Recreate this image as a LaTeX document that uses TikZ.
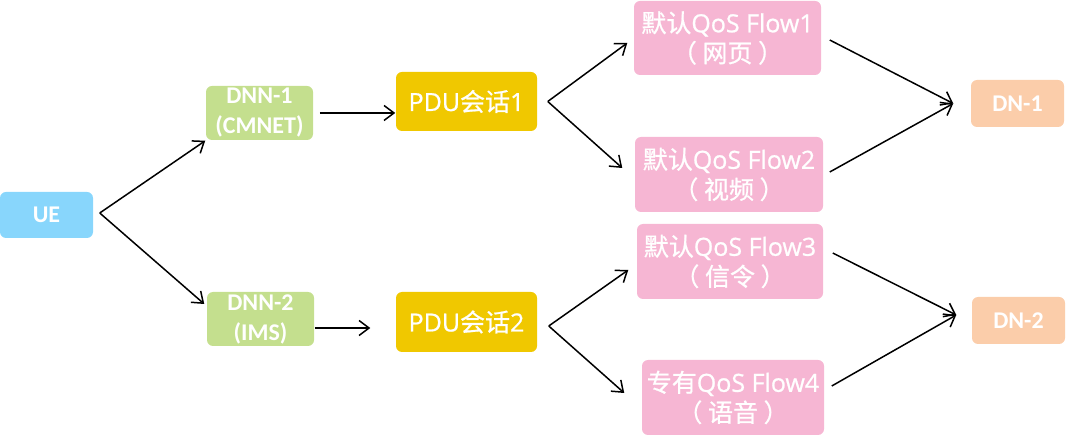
\documentclass[tikz,border=0pt]{standalone}
\usepackage{fontspec}
\newfontfamily\calibri{Carlito}
\newfontfamily\opensans{Open Sans}[FakeBold=0.8]
\newfontfamily\cjk{Noto Sans CJK SC}[FakeBold=0.8]
\usetikzlibrary{arrows.meta}
\definecolor{ueblue}{RGB}{136,214,252}
\definecolor{dnngreen}{RGB}{196,223,142}
\definecolor{pdugold}{RGB}{240,200,0}
\definecolor{flowpink}{RGB}{246,182,211}
\definecolor{dnpeach}{RGB}{251,205,170}

\begin{document}
\begin{tikzpicture}[x=1pt, y=-1pt, line width=1.5pt,
  box/.style={rounded corners=6pt, text=white, inner sep=0pt, align=center},
  latinbox/.style={box, font=\calibri\bfseries\fontsize{24}{30}\selectfont},
  cjkbox/.style={box, font=\opensans\fontsize{25}{30}\selectfont},
  arr/.style={-{Straight Barb[length=10pt,width=15pt]}}]
\useasboundingbox (0,0) rectangle (1080,438);

\node [latinbox, fill=ueblue, minimum width=93pt, minimum height=46pt] (ue) at (46.5,215) {UE};
\node [latinbox, fill=dnngreen, minimum width=107pt, minimum height=54pt] (dnn1) at (259.5,113) {DNN-1\\(CMNET)};
\node [latinbox, fill=dnngreen, minimum width=107pt, minimum height=54pt] (dnn2) at (260.5,319) {DNN-2\\(IMS)};
\node [cjkbox, fill=pdugold, minimum width=141pt, minimum height=59pt] (pdu1) at (466.5,101.5) {PDU{\cjk 会话}1};
\node [cjkbox, fill=pdugold, minimum width=141pt, minimum height=60pt] (pdu2) at (466.5,322) {PDU{\cjk 会话}2};
\node [cjkbox, fill=flowpink, minimum width=187pt, minimum height=74pt] (qf1) at (727.5,38) {{\cjk 默认}QoS Flow1\\{\cjk （ 网页 ）}};
\node [cjkbox, fill=flowpink, minimum width=188pt, minimum height=75pt] (qf2) at (729,174.5) {{\cjk 默认}QoS Flow2\\{\cjk （ 视频 ）}};
\node [cjkbox, fill=flowpink, minimum width=186pt, minimum height=75pt] (qf3) at (730,261.5) {{\cjk 默认}QoS Flow3\\{\cjk （ 信令 ）}};
\node [cjkbox, fill=flowpink, minimum width=182pt, minimum height=75pt] (qf4) at (733,397.5) {{\cjk 专有}QoS Flow4\\{\cjk （ 语音 ）}};
\node [latinbox, fill=dnpeach, minimum width=93pt, minimum height=47pt] (dn1) at (1017.5,103.5) {DN-1};
\node [latinbox, fill=dnpeach, minimum width=93pt, minimum height=47pt] (dn2) at (1018.5,320.5) {DN-2};

\draw[arr] ([xshift=6pt,yshift=2pt]ue.east) -- (dnn1.south west);
\draw[arr] ([xshift=6pt,yshift=2pt]ue.east) -- ([xshift=-2pt,yshift=15pt]dnn2.west);
\draw[arr] ([xshift=6pt]dnn1.east) -- (dnn1.east -| pdu1.west);
\draw[arr, shorten >=25pt] ([yshift=-9pt]dnn2.east) -- ([yshift=-9pt]dnn2.east -| pdu2.west);

\draw[arr] ([xshift=10pt]pdu1.east) -- ([xshift=-6pt,yshift=-5pt]qf1.west);
\draw[arr] ([xshift=10pt]pdu1.east) -- ([xshift=-12pt,yshift=6.5pt]qf2.west);
\draw[arr] ([xshift=11pt,yshift=-4pt]pdu2.east) -- ([xshift=-8pt,yshift=-8.5pt]qf3.west);
\draw[arr] ([xshift=11pt,yshift=-4pt]pdu2.east) -- ([xshift=-17pt,yshift=4.5pt]qf4.west);

\draw[arr] ([xshift=8pt,yshift=-2pt]qf1.east) -- ([xshift=-17pt]dn1.west);
\draw[arr] ([xshift=6pt,yshift=2.5pt]qf2.east) -- ([xshift=-17pt]dn1.west);
\draw[arr] ([xshift=9pt,yshift=8.5pt]qf3.east) -- ([xshift=-15pt,yshift=5.5pt]dn2.west);
\draw[arr] ([xshift=7pt,yshift=11.5pt]qf4.east) -- ([xshift=-15pt,yshift=5.5pt]dn2.west);

\end{tikzpicture}
\end{document}
